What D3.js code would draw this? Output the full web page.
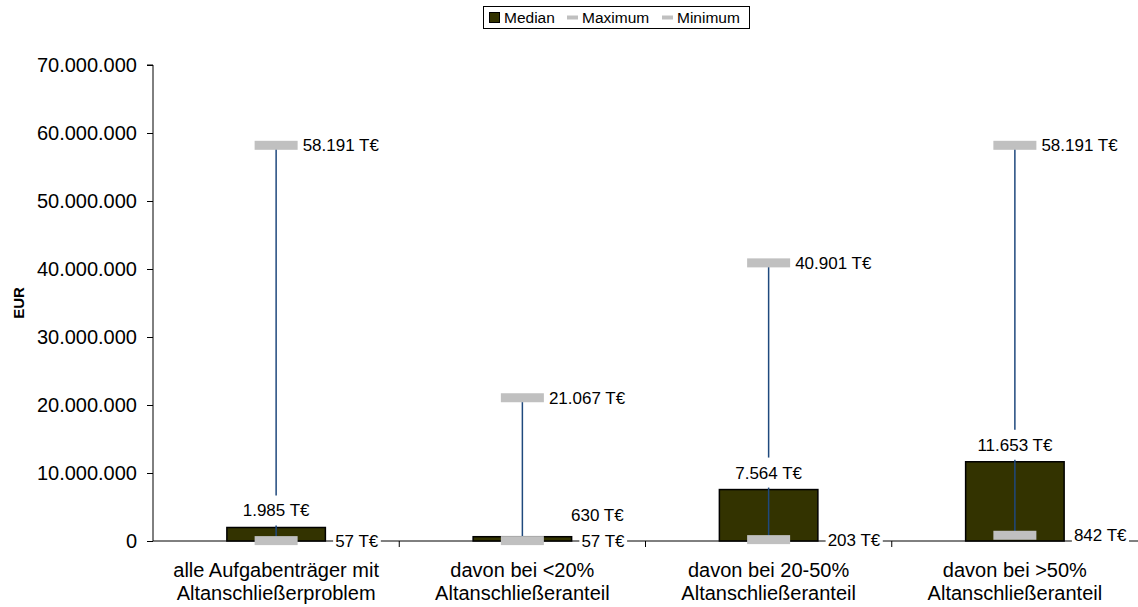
<!DOCTYPE html>
<html><head><meta charset="utf-8">
<script src="https://cdn.jsdelivr.net/npm/d3@7"></script>
<style>
body{margin:0;background:#fff;}
text{font-family:"Liberation Sans",Arial,sans-serif;fill:#000;}
</style></head>
<body><svg id="c" width="1138" height="607"></svg>
<script>
const categories = [
  ["alle Aufgabenträger mit","Altanschließerproblem"],
  ["davon bei <20%","Altanschließeranteil"],
  ["davon bei 20-50%","Altanschließeranteil"],
  ["davon bei >50%","Altanschließeranteil"]
];
const medianValues = [1985000, 630000, 7564000, 11653000];
const maxValues = [58191000, 21067000, 40901000, 58191000];
const minValues = [57000, 57000, 203000, 842000];
const medianLabels = ["1.985 T€","630 T€","7.564 T€","11.653 T€"];
const maxLabels = ["58.191 T€","21.067 T€","40.901 T€","58.191 T€"];
const minLabels = ["57 T€","57 T€","203 T€","842 T€"];
const yTicks = [0,10000000,20000000,30000000,40000000,50000000,60000000,70000000];
const legendItems = ["Median","Maximum","Minimum"];

const svg = d3.select("#c");
const L=153, R=1138, T=65, B=541;
const x = d3.scaleBand().domain(d3.range(categories.length)).range([L,R]).paddingInner(0).paddingOuter(0);
const y = d3.scaleLinear().domain([0,70000000]).range([B,T]);
const barW = x.bandwidth()*0.4;
const markW = 43, markH = 9;
const fmt = v => d3.format(",")(v).replace(/,/g,".");

// y axis
const yAxis = svg.append("g").attr("transform",`translate(${L},0)`)
  .call(d3.axisLeft(y).tickValues(yTicks).tickSize(6).tickPadding(10).tickFormat(fmt));
yAxis.selectAll("path,line").attr("stroke","#000");
yAxis.selectAll("text").style("font-size","20px").style("font-family","Liberation Sans, Arial, sans-serif");
yAxis.select(".domain").attr("d",`M-6,${T}H0V${B}`);

// x axis
const xAxis = svg.append("g").attr("transform",`translate(0,${B})`);
xAxis.append("line").attr("x1",L).attr("x2",R).attr("y1",0).attr("y2",0).attr("stroke","#000");
const bounds = d3.range(categories.length+1).map(i => i<categories.length ? x(i) : x(categories.length-1)+x.bandwidth());
xAxis.selectAll("line.tk").data(bounds.slice(1,-1)).join("line").attr("class","tk")
  .attr("x1",d=>d).attr("x2",d=>d).attr("y1",0).attr("y2",6).attr("stroke","#000");
xAxis.selectAll("text.cat").data(categories).join("text").attr("class","cat")
  .attr("text-anchor","middle").style("font-size","20px")
  .each(function(d,i){
    const t=d3.select(this);
    d.forEach((ln,j)=>t.append("tspan").attr("x",x(i)+x.bandwidth()/2).attr("y",36+j*23).text(ln));
  });

// y title
svg.append("text").attr("transform",`translate(24,${(T+B)/2}) rotate(-90)`)
  .attr("text-anchor","middle").style("font-size","15px").style("font-weight","bold").text("EUR");

const cx = i => x(i)+x.bandwidth()/2;

// bars
svg.selectAll("rect.bar").data(medianValues).join("rect").attr("class","bar")
  .attr("x",(d,i)=>cx(i)-barW/2).attr("width",barW)
  .attr("y",d=>y(d)).attr("height",d=>B-y(d))
  .attr("fill","#333300").attr("stroke","#000").attr("stroke-width",1.5);

// high-low lines
svg.selectAll("line.hl").data(maxValues).join("line").attr("class","hl")
  .attr("x1",(d,i)=>cx(i)).attr("x2",(d,i)=>cx(i))
  .attr("y1",d=>y(d)).attr("y2",(d,i)=>y(minValues[i]))
  .attr("stroke","#1f497d").attr("stroke-width",1.5);

// markers
function markers(vals,cls){
  svg.selectAll("rect."+cls).data(vals).join("rect").attr("class",cls)
    .attr("x",(d,i)=>cx(i)-markW/2).attr("width",markW)
    .attr("y",d=>y(d)-markH/2).attr("height",markH).attr("fill","#c0c0c0");
}
markers(maxValues,"mx");
markers(minValues,"mn");

// labels with white background
function label(xp,yp,txt,anchor,padY){
  const g=svg.append("g");
  const t=g.append("text").attr("x",xp).attr("y",yp).attr("dy","0.35em")
    .attr("text-anchor",anchor).style("font-size","17px").text(txt);
  const bb=t.node().getBBox();
  g.insert("rect","text").attr("x",bb.x-2).attr("y",yp-padY).attr("width",bb.width+4).attr("height",padY*2).attr("fill","#fff");
}
const medianLabelNudge = {1:[75,-5]};
medianValues.forEach((v,i)=>{
  const n = medianLabelNudge[i]||[0,0];
  label(cx(i)+n[0], y(v)-17+n[1], medianLabels[i], "middle", 15);
});
maxValues.forEach((v,i)=>label(cx(i)+markW/2+5, y(v), maxLabels[i], "start", 9));
minValues.forEach((v,i)=>label(cx(i)+59, y(v), minLabels[i], "start", 9));

// legend
const lg = svg.append("g");
lg.append("rect").attr("x",483.5).attr("y",6.5).attr("width",266).attr("height",22).attr("fill","#fff").attr("stroke","#000");
lg.append("rect").attr("x",489.5).attr("y",12.5).attr("width",10).attr("height",10).attr("fill","#333300").attr("stroke","#000");
lg.append("text").attr("x",504).attr("y",23).style("font-size","15.5px").text(legendItems[0]);
lg.append("line").attr("x1",567).attr("x2",578).attr("y1",17.5).attr("y2",17.5).attr("stroke","#c0c0c0").attr("stroke-width",4);
lg.append("text").attr("x",582).attr("y",23).style("font-size","15.5px").text(legendItems[1]);
lg.append("line").attr("x1",662).attr("x2",673).attr("y1",17.5).attr("y2",17.5).attr("stroke","#c0c0c0").attr("stroke-width",4);
lg.append("text").attr("x",677).attr("y",23).style("font-size","15.5px").text(legendItems[2]);
</script></body></html>
